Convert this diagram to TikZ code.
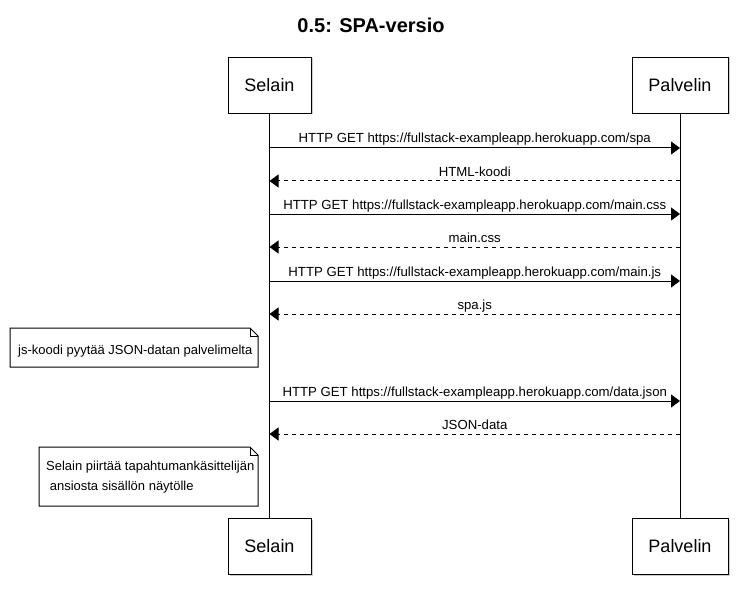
\documentclass[tikz,border=0pt]{standalone}
\usepackage{fontspec}
\setmainfont{Liberation Sans}
\usetikzlibrary{arrows.meta}

\tikzset{
	actor/.style={draw=black, fill=white, line width=1pt, minimum height=56pt, font=\fontsize{18}{21}\selectfont},
	req/.style={line width=1pt, -{Triangle[length=9pt,width=13pt]}},
	resp/.style={line width=1pt, dash pattern=on 4pt off 4pt, -{Triangle[length=9pt,width=13pt]}},
	lbl/.style={font=\fontsize{13.2}{15}\selectfont, above=4pt, inner sep=0.5pt, text depth=0pt},
	notetext/.style={font=\fontsize{13}{20}\selectfont, align=left, anchor=west, inner sep=0pt}
}

\begin{document}
\begin{tikzpicture}[x=1pt,y=-1pt]
		
		\useasboundingbox[fill=white] (0,0) rectangle (742,599);
		%
		% THE TITLE
		\node[font=\bfseries\fontsize{20}{24}\selectfont] (title) at (371,25) {0.5: SPA-versio};
		%
		% THE SHADOWS
		\fill[black!20] (229.5,58.5) rectangle (312.5,114.5);
		\fill[black!20] (633.5,58.5) rectangle (729.5,114.5);
		\fill[black!20] (229.5,519.5) rectangle (312.5,575.5);
		\fill[black!20] (633.5,519.5) rectangle (729.5,575.5);
		%
		% THE ACTORS
		\node[actor, minimum width=83pt] (selainTop) at (269.5,85.5) {Selain};
		\node[actor, minimum width=96pt] (palvelinTop) at (680,85.5) {Palvelin};
		\node[actor, minimum width=83pt] (selainBot) at (269.5,546.5) {Selain};
		\node[actor, minimum width=96pt] (palvelinBot) at (680,546.5) {Palvelin};
		%
		% THE LIFELINES
		\draw[line width=1pt] (selainTop) -- (selainBot);
		\draw[line width=1pt] (palvelinTop) -- (palvelinBot);
		%
		% THE MESSAGES
		\draw[req] (selainTop |- 0,148) -- (palvelinTop |- 0,148)
			node[lbl, midway] {HTTP GET https://fullstack-exampleapp.herokuapp.com/spa};
		\draw[resp] (palvelinTop |- 0,181) -- (selainTop |- 0,181)
			node[lbl, midway] {HTML-koodi};
		\draw[req] (selainTop |- 0,214) -- (palvelinTop |- 0,214)
			node[lbl, midway] {HTTP GET https://fullstack-exampleapp.herokuapp.com/main.css};
		\draw[resp] (palvelinTop |- 0,247) -- (selainTop |- 0,247)
			node[lbl, midway] {main.css};
		\draw[req] (selainTop |- 0,281) -- (palvelinTop |- 0,281)
			node[lbl, midway] {HTTP GET https://fullstack-exampleapp.herokuapp.com/main.js};
		\draw[resp] (palvelinTop |- 0,314) -- (selainTop |- 0,314)
			node[lbl, midway] {spa.js};
		\draw[req] (selainTop |- 0,401) -- (palvelinTop |- 0,401)
			node[lbl, midway] {HTTP GET https://fullstack-exampleapp.herokuapp.com/data.json};
		\draw[resp] (palvelinTop |- 0,434) -- (selainTop |- 0,434)
			node[lbl, midway] {JSON-data};
		%
		% THE NOTES
		\path [fill=white, draw=black, line width=1pt]
		(10,328) -- (250,328) -- (258,336) -- (258,367) -- (10,367) -- cycle;
		\draw[line width=1pt] (250,328) -- (250,336) -- (258,336);
		\node[notetext] (note1) at (18,351) {js-koodi pyytää JSON-datan palvelimelta};
		%
		\path [fill=white, draw=black, line width=1pt]
		(39,447) -- (250,447) -- (258,455) -- (258,506) -- (39,506) -- cycle;
		\draw[line width=1pt] (250,447) -- (250,455) -- (258,455);
		\node[notetext] (note2) at (46,477) {Selain piirtää tapahtumankäsittelijän\\ \ ansiosta sisällön näytölle};
	\end{tikzpicture}
\end{document}
